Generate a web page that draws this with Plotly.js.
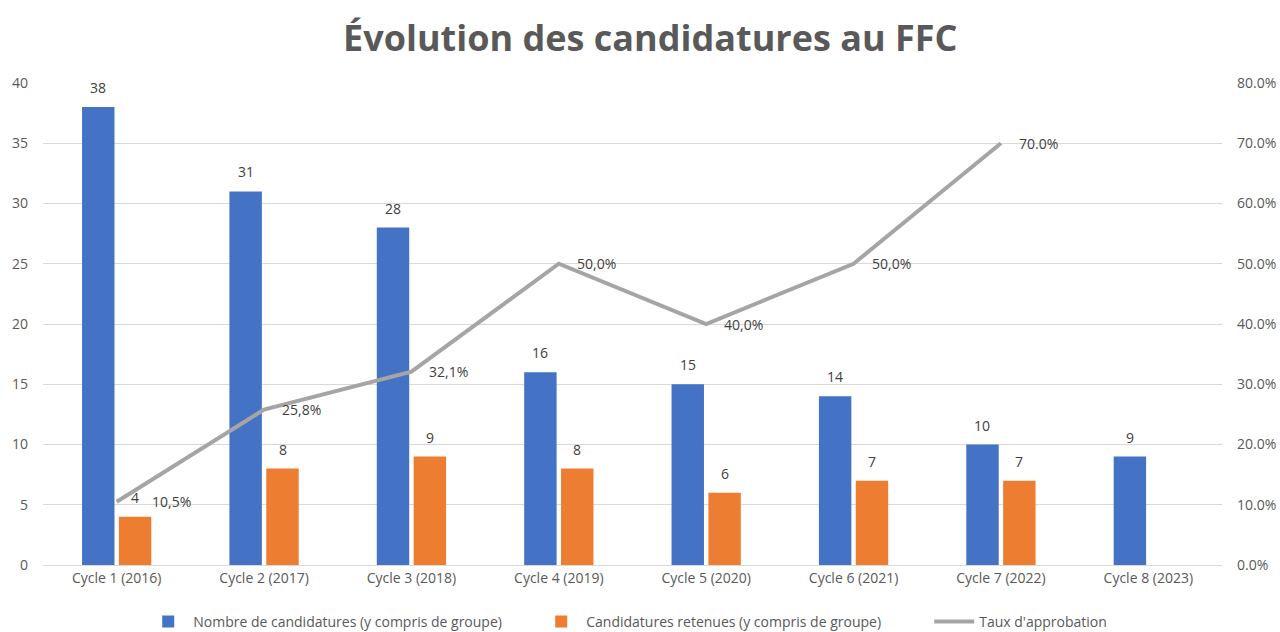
<!DOCTYPE html>
<html><head><meta charset="utf-8">
<script src="https://cdn.plot.ly/plotly-3.0.1.min.js"></script>
<style>html,body{margin:0;padding:0;background:#fff}#chart{width:1280px;height:632px}</style>
</head><body><div id="chart"></div>
<script>
const categories = ["Cycle 1 (2016)","Cycle 2 (2017)","Cycle 3 (2018)","Cycle 4 (2019)","Cycle 5 (2020)","Cycle 6 (2021)","Cycle 7 (2022)","Cycle 8 (2023)"];
const candidatures = [38,31,28,16,15,14,10,9];
const retenues = [4,8,9,8,6,7,7,null];
const taux = [0.105,0.258,0.321,0.50,0.40,0.50,0.70,null];
const tauxLabels = ["10,5%","25,8%","32,1%","50,0%","40,0%","50,0%","70.0%",""];

const txt = '#595959';
const font = "'Open Sans', sans-serif";

const traces = [
  {type:'bar', name:'Nombre de candidatures (y compris de groupe)', x:categories, y:candidatures,
   marker:{color:'#4472C4'}, hoverinfo:'x+y'},
  {type:'bar', name:'Candidatures retenues (y compris de groupe)', x:categories, y:retenues,
   marker:{color:'#ED7D31'}},
  {type:'scatter', mode:'lines', name:"Taux d'approbation", x:categories, y:taux, yaxis:'y2',
   line:{color:'#A5A5A5', width:4}, connectgaps:false}
];

const annotations = [];
const lbl = {size:14,color:'#404040',family:font};
candidatures.forEach((v,i)=>{
  if(v==null) return;
  annotations.push({x:categories[i], y:v, xref:'x', yref:'y', text:String(v), showarrow:false,
    xanchor:'center', yanchor:'bottom', xshift:-18.5, yshift:8, font:lbl});
});
retenues.forEach((v,i)=>{
  if(v==null) return;
  annotations.push({x:categories[i], y:v, xref:'x', yref:'y', text:String(v), showarrow:false,
    xanchor:'center', yanchor:'bottom', xshift:18.5, yshift:8, font:lbl});
});
taux.forEach((v,i)=>{
  if(v==null) return;
  annotations.push({x:categories[i], y:v, xref:'x', yref:'y2', text:tauxLabels[i], showarrow:false,
    xanchor:'left', yanchor:'middle', xshift: i===0?33:16, font:lbl});
});

const layout = {
  width:1280, height:632,
  margin:{l:43, r:58, t:83, b:67, autoexpand:false},
  paper_bgcolor:'#fff', plot_bgcolor:'#fff',
  title:{text:'Évolution des candidatures au FFC', x:0.508, xanchor:'center', y:0.94, yanchor:'middle',
    font:{family:font, size:36, color:txt, weight:'bold'}},
  barmode:'group', bargap:0.5, bargroupgap:0.12,
  font:{family:font, color:txt, size:14},
  xaxis:{type:'category', showgrid:false, showline:true, linecolor:'#D9D9D9', linewidth:1,
    ticks:'', tickfont:{size:14,color:txt}, fixedrange:true},
  yaxis:{range:[0,40], dtick:5, showgrid:true, gridcolor:'#D9D9D9', gridwidth:1, zeroline:false,
    ticks:'', tickfont:{size:14,color:txt}, ticklabelstandoff:14},
  yaxis2:{range:[0,0.8], dtick:0.1, tickformat:'.1%', overlaying:'y', side:'right', showgrid:false,
    zeroline:false, ticks:'', tickfont:{size:14,color:txt}, ticklabelstandoff:14},
  legend:{orientation:'h', x:0.085, xanchor:'left', y:-0.118, yanchor:'middle',
    font:{size:14,color:txt,family:font}, traceorder:'normal', entrywidth:338, itemwidth:40},
  annotations:annotations,
  showlegend:true
};

Plotly.newPlot('chart', traces, layout, {displayModeBar:false, staticPlot:true});
</script>
</body></html>
